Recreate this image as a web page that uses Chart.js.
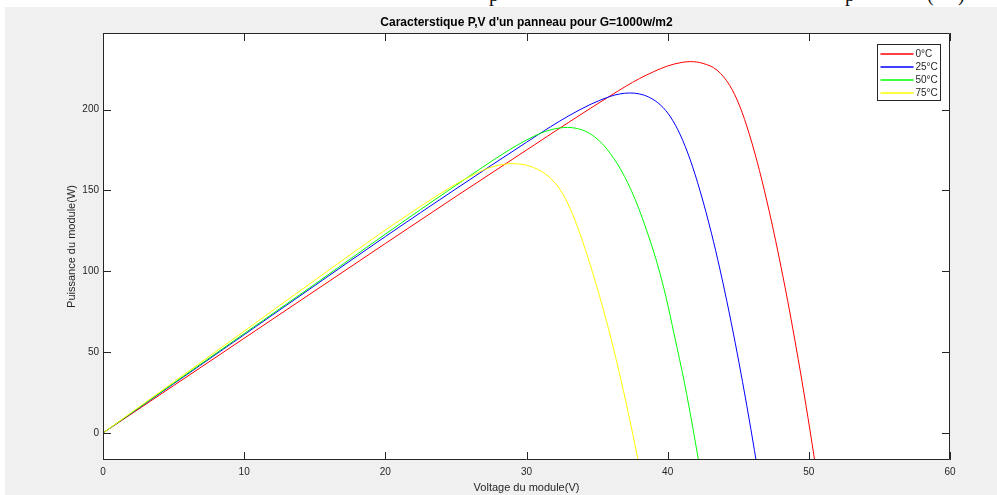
<!DOCTYPE html>
<html>
<head>
<meta charset="utf-8">
<script src="https://cdn.jsdelivr.net/npm/chart.js"></script>
<style>
  html, body { margin: 0; padding: 0; background: #fff; }
  body { width: 997px; height: 495px; position: relative; overflow: hidden; }
  #doc { position: absolute; left: 0; top: -16px; font-family: "Liberation Serif", serif; font-size: 20px; line-height: 20px; color: #111; }
  #doc span { position: absolute; top: 0; }
  #figure { position: absolute; left: 5px; top: 7px; right: 0; bottom: 0; background: #f0f0f0; }
  #pv { position: absolute; left: 0; top: 0; }
</style>
</head>
<body>
<div id="doc"><span style="left:489px">p</span><span style="left:845px">p</span><span style="left:927px">(</span><span style="left:958px">)</span></div>
<div id="figure"></div>
<canvas id="pv" width="997" height="495"></canvas>
<script>
// P-V curves of the module for each cell temperature
const voltage0 = [0, 5, 10, 15, 20, 25, 30, 33, 36, 38, 40, 41, 41.6, 42.5, 43.5, 44.4, 45.1, 45.8, 46.5, 47.2, 47.8, 48.5, 49, 49.5, 50.1, 50.5];
const power0   = [0, 29.3, 58.6, 87.9, 117.2, 146.3, 175, 192.2, 208.9, 219.2, 227, 229.2, 229.7, 228.6, 224.4, 214.9, 202.3, 184.4, 162.4, 136.9, 112.6, 81.8, 58, 32.8, 0.7, -22];

const voltage25 = [0, 5, 10, 15, 20, 25, 30, 31.7, 33, 34.5, 35.9, 36.6, 37.3, 38, 38.7, 39.5, 40.2, 40.9, 41.6, 42.3, 43.1, 43.7, 44.2, 44.8, 45.3, 45.9, 46.4];
const power25   = [0, 30.4, 60.8, 91.2, 121.5, 151, 179.8, 189.4, 196.2, 203.1, 208.1, 209.7, 210.3, 209.7, 207.6, 202.8, 195.5, 184.3, 168.9, 149.6, 123.6, 101.4, 81.2, 55.1, 31.8, 2.1, -24.1];

const voltage50 = [0, 5, 10, 15, 20, 25, 28.8, 30, 31, 31.66, 32.3, 32.9, 33.6, 34.3, 35, 35.7, 36.7, 37.7, 38.74, 39.3, 39.87, 40.46, 41.2, 41.8, 42.2];
const power50   = [0, 30.8, 61.5, 92, 123, 153.2, 175.2, 181.2, 185.4, 187.4, 188.6, 189, 188.3, 186.1, 181.9, 175.6, 162.6, 144.4, 119.4, 103.6, 84.5, 61, 30.6, 2.4, -17.8];

const voltage75 = [0, 5, 10, 15, 20, 25, 26, 27, 28, 29, 30, 31, 31.7, 32.4, 33.1, 33.8, 34.5, 35.3, 36, 36.7, 37.4, 38];
const power75   = [0, 31.5, 63, 94.5, 125.5, 154, 158.6, 162.8, 165.6, 166.6, 165.6, 162.1, 157.6, 150.3, 138.7, 122.9, 104.4, 80.8, 57.9, 32.5, 4.7, -21];

const seriesLabels = ['0°C', '25°C', '50°C', '75°C'];
const seriesColors = ['#ff0000', '#0000ff', '#00ff00', '#ffff00'];

const xTickValues = [0, 10, 20, 30, 40, 50, 60];
const yTickValues = [0, 50, 100, 150, 200];

const axisColor = '#262626';
const fontFamily = '"Liberation Sans", Arial, Helvetica, sans-serif';

const toPoints = (xs, ys) => xs.map((x, i) => ({ x: x, y: ys[i] }));

const curves = [
  toPoints(voltage0, power0),
  toPoints(voltage25, power25),
  toPoints(voltage50, power50),
  toPoints(voltage75, power75)
];

const datasets = curves.map((pts, i) => ({
  label: seriesLabels[i],
  data: pts,
  borderColor: seriesColors[i],
  backgroundColor: seriesColors[i],
  borderWidth: 1,
  pointRadius: 0,
  fill: false,
  cubicInterpolationMode: 'monotone',
  // later curves sit on top
  order: curves.length - 1 - i
}));

// white axes background, box with inward ticks, legend inside the axes
const matlabAxes = {
  id: 'matlabAxes',
  beforeDraw(chart) {
    const { ctx, chartArea: a } = chart;
    ctx.save();
    ctx.fillStyle = '#fff';
    ctx.fillRect(a.left, a.top, a.right - a.left, a.bottom - a.top);
    ctx.restore();
  },
  afterDraw(chart) {
    const { ctx, chartArea: a } = chart;
    const xs = chart.scales.x, ys = chart.scales.y;
    const tick = 8;
    ctx.save();
    ctx.strokeStyle = axisColor;
    ctx.lineWidth = 1;
    ctx.beginPath();
    ctx.rect(a.left + 0.5, a.top + 0.5, a.right - a.left - 1, a.bottom - a.top - 1);
    xs.ticks.forEach(t => {
      const px = Math.round(xs.getPixelForValue(t.value)) + 0.5;
      ctx.moveTo(px, a.bottom); ctx.lineTo(px, a.bottom - tick);
      ctx.moveTo(px, a.top); ctx.lineTo(px, a.top + tick);
    });
    ys.ticks.forEach(t => {
      const py = Math.round(ys.getPixelForValue(t.value)) + 0.5;
      ctx.moveTo(a.left, py); ctx.lineTo(a.left + tick, py);
      ctx.moveTo(a.right, py); ctx.lineTo(a.right - tick, py);
    });
    ctx.stroke();

    // legend
    const box = { left: 877.5, top: 44.5, width: 63, height: 56 };
    ctx.fillStyle = '#fff';
    ctx.fillRect(box.left, box.top, box.width, box.height);
    ctx.strokeStyle = axisColor;
    ctx.strokeRect(box.left, box.top, box.width, box.height);
    ctx.font = '10px ' + fontFamily;
    ctx.textBaseline = 'middle';
    ctx.textAlign = 'left';
    seriesLabels.forEach((label, i) => {
      const y = Math.round(box.top + 9 + i * 13);
      ctx.beginPath();
      ctx.strokeStyle = seriesColors[i];
      ctx.lineWidth = 1.3;
      ctx.moveTo(box.left + 3, y);
      ctx.lineTo(box.left + 36, y);
      ctx.stroke();
      ctx.fillStyle = axisColor;
      ctx.fillText(label, box.left + 38, y + 0.5);
    });
    ctx.restore();
  }
};

new Chart(document.getElementById('pv'), {
  type: 'line',
  data: { datasets: datasets },
  options: {
    responsive: false,
    devicePixelRatio: 1,
    animation: false,
    events: [],
    layout: { padding: { left: 0, right: 47, top: 0, bottom: 0 } },
    plugins: {
      legend: { display: false },
      tooltip: { enabled: false },
      title: {
        display: true,
        fullSize: false,
        text: "Caracterstique P,V d'un panneau pour G=1000w/m2",
        color: '#000',
        font: { family: fontFamily, size: 12, weight: 'bold' },
        padding: { top: 15, bottom: 3.6 }
      }
    },
    scales: {
      x: {
        type: 'linear',
        min: 0,
        max: 60,
        afterBuildTicks: s => { s.ticks = xTickValues.map(v => ({ value: v })); },
        afterFit: s => { s.height = 35; },
        grid: { display: false, drawTicks: false },
        border: { display: false },
        ticks: { color: axisColor, padding: 6.5, maxRotation: 0, font: { family: fontFamily, size: 10 } },
        title: {
          display: true,
          text: 'Voltage du module(V)',
          color: axisColor,
          padding: { top: 0, bottom: 0 },
          font: { family: fontFamily, size: 11 }
        }
      },
      y: {
        type: 'linear',
        min: -16.7,
        max: 247.4,
        afterBuildTicks: s => { s.ticks = yTickValues.map(v => ({ value: v })); },
        afterFit: s => { s.width = 103; },
        grid: { display: false, drawTicks: false },
        border: { display: false },
        ticks: { color: axisColor, padding: 4, font: { family: fontFamily, size: 10 } },
        title: {
          display: true,
          text: 'Puissance du module(W)',
          color: axisColor,
          padding: { top: 65.5, bottom: 0 },
          font: { family: fontFamily, size: 11 }
        }
      }
    }
  },
  plugins: [matlabAxes]
});
</script>
</body>
</html>
